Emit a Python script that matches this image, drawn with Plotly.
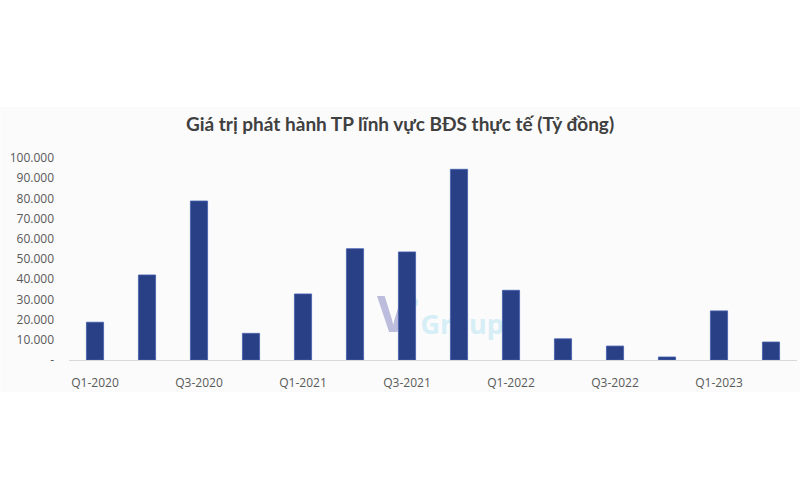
import plotly.graph_objects as go

categories = ["Q1-2020", "Q2-2020", "Q3-2020", "Q4-2020",
              "Q1-2021", "Q2-2021", "Q3-2021", "Q4-2021",
              "Q1-2022", "Q2-2022", "Q3-2022", "Q4-2022",
              "Q1-2023", "Q2-2023"]
values = [18700, 42100, 78700, 13200,
          32700, 55100, 53500, 94400,
          34500, 10500, 6900, 1500,
          24300, 8900]
x_tick_labels = ["Q1-2020", "Q3-2020", "Q1-2021", "Q3-2021",
                 "Q1-2022", "Q3-2022", "Q1-2023"]
y_tick_vals = [0, 10000, 20000, 30000, 40000, 50000,
               60000, 70000, 80000, 90000, 100000]
y_tick_text = ["-", "10.000", "20.000", "30.000", "40.000", "50.000",
               "60.000", "70.000", "80.000", "90.000", "100.000"]
title_text = "Giá trị phát hành TP lĩnh vực BĐS thực tế (Tỷ đồng)"

L, R, T, B = 68.5, 3, 158, 140
W, H = 800, 500
pw, ph = W - L - R, H - T - B


def px(xp):
    return (xp - L) / pw


def py(yp):
    return (H - B - yp) / ph


fig = go.Figure()
fig.add_trace(go.Bar(
    x=categories, y=values,
    marker=dict(color="#293f86", line=dict(color="#4260ad", width=0.8)),
    width=0.33,
    hoverinfo="skip",
))

shapes = [
    dict(type="rect", xref="paper", yref="paper",
         x0=px(0), x1=px(800), y0=py(392), y1=py(107),
         fillcolor="#fbfbfb", line=dict(width=0), layer="below"),
    dict(type="rect", xref="paper", yref="paper",
         x0=px(370), x1=px(416), y0=py(342), y1=py(290),
         fillcolor="rgba(0,0,0,0)", line=dict(width=0), layer="below",
         label=dict(text="V", font=dict(family="Open Sans", size=50,
                                        color="#bcbcdc", weight="bold"),
                    textposition="middle center")),
    dict(type="circle", xref="paper", yref="paper",
         x0=px(409), x1=px(418), y0=py(307), y1=py(298),
         fillcolor="#d6eef6", line=dict(width=0), layer="below"),
    dict(type="rect", xref="paper", yref="paper",
         x0=px(412), x1=px(512), y0=py(345), y1=py(305),
         fillcolor="rgba(0,0,0,0)", line=dict(width=0), layer="below",
         label=dict(text="Group", font=dict(family="Open Sans", size=27,
                                            color="#d6eef6", weight="bold"),
                    textposition="middle center")),
]

fig.update_layout(
    width=W, height=H,
    margin=dict(l=L, r=R, t=T, b=B),
    paper_bgcolor="white",
    plot_bgcolor="rgba(0,0,0,0)",
    showlegend=False,
    shapes=shapes,
    title=dict(text=title_text, x=0.5, xref="container", xanchor="center",
               y=1 - 124 / H, yref="container", yanchor="middle",
               font=dict(family="Lato", size=19, color="#404040", weight="bold")),
    xaxis=dict(
        type="category",
        tickmode="array", tickvals=x_tick_labels, ticktext=x_tick_labels,
        showgrid=False, zeroline=False,
        showline=True, linecolor="#d9d9d9", linewidth=1,
        ticks="", ticklabelstandoff=12,
        tickfont=dict(family="Open Sans", size=12, color="#595959"),
        range=[-0.5, len(categories) - 0.5],
    ),
    yaxis=dict(
        range=[0, 100000],
        tickmode="array", tickvals=y_tick_vals, ticktext=y_tick_text,
        showgrid=False, zeroline=False, showline=False,
        ticks="", ticklabelstandoff=14,
        tickfont=dict(family="Open Sans", size=12, color="#595959"),
    ),
)

fig.write_html("out.html",
               config={"displayModeBar": False},
               post_script="document.body.style.margin='0';")
